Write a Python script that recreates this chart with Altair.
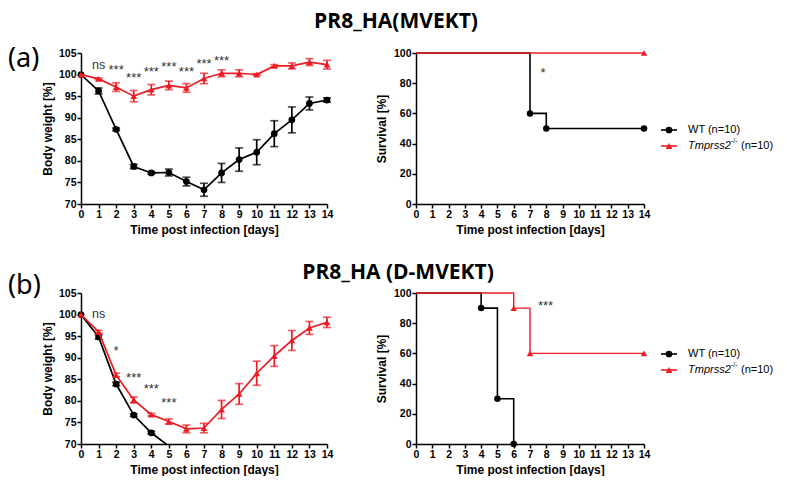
import altair as alt
import pandas as pd

# ---------------- data ----------------
days = list(range(15))

# (a) PR8_HA(MVEKT) – body weight (mean, SEM)
wt_a_mean = [100, 96.2, 87.3, 78.7, 77.2, 77.3, 75.2, 73.3, 77.2, 80.3, 82.0, 86.3, 89.5, 93.3, 94.1]
wt_a_sem = [0, 0.7, 0.3, 0.5, 0.3, 0.8, 1.0, 1.5, 2.2, 2.7, 2.9, 3.0, 3.0, 1.5, 0.5]
ko_a_mean = [100, 99.0, 97.1, 95.0, 96.5, 97.5, 96.9, 99.1, 100.3, 100.3, 100.0, 102.0, 102.0, 102.9, 102.3]
ko_a_sem = [0, 0.2, 1.0, 1.3, 1.2, 1.0, 1.0, 1.2, 0.8, 0.8, 0.2, 0.3, 0.7, 0.8, 1.0]
sig_a_days = [1, 2, 3, 4, 5, 6, 7, 8]
sig_a_y = [102.0, 101.9, 100.0, 101.3, 102.6, 101.4, 103.3, 103.9]
sig_a_txt = ["ns", "***", "***", "***", "***", "***", "***", "***"]

# (b) PR8_HA (D-MVEKT) – body weight
wt_b_days = [0, 1, 2, 3, 4, 5]
wt_b_mean = [100, 94.8, 83.9, 76.7, 72.6, 69.5]
wt_b_sem = [0, 0.5, 0.4, 0.3, 0.3, 0]
ko_b_mean = [100, 96.0, 86.0, 80.2, 76.8, 75.2, 73.5, 73.7, 78.0, 81.6, 86.4, 90.4, 94.0, 96.9, 98.2]
ko_b_sem = [0, 0.3, 0.4, 0.7, 0.3, 0.6, 0.9, 1.1, 2.1, 2.4, 2.8, 2.4, 2.3, 1.5, 1.2]
sig_b_days = [1, 2, 3, 4, 5]
sig_b_y = [100.0, 92.3, 86.0, 83.5, 80.2]
sig_b_txt = ["ns", "*", "***", "***", "***"]

# survival (Kaplan-Meier steps)
surv_a_wt_days = [0, 7, 8, 14]
surv_a_wt = [100, 60, 50, 50]
surv_a_ko_days = [0, 14]
surv_a_ko = [100, 100]
surv_a_sig_days = [7.8]
surv_a_sig_y = [89.2]
surv_a_sig_txt = ["*"]

surv_b_wt_days = [0, 4, 5, 6]
surv_b_wt = [100, 90, 30, 0]
surv_b_ko_days = [0, 6, 7, 14]
surv_b_ko = [100, 90, 60, 60]
surv_b_sig_days = [7.95]
surv_b_sig_y = [93.4]
surv_b_sig_txt = ["***"]

titles = ["PR8_HA(MVEKT)", "PR8_HA (D-MVEKT)"]
panel_tags = ["(a)", "(b)"]
legend_wt = "WT (n=10)"
legend_ko = ["Tmprss2", "-/-", "(n=10)"]

# ---------------- style ----------------
RED = "#ec1c24"
FONT = "Liberation Sans"
TFONT = "Open Sans"

xs = alt.Scale(domain=[0, 14], nice=False, zero=False)
X_AXIS = alt.Axis(values=days, title="Time post infection [days]", labelAngle=0,
                  labelOverlap=False, labelFlush=False, titlePadding=5)
X = alt.X("d:Q", scale=xs, axis=X_AXIS)


def frame(d, m, e=None):
    df = pd.DataFrame({"d": d, "m": m})
    if e is not None:
        df["e"] = e
        df["lo"] = [a - b for a, b in zip(m, e)]
        df["hi"] = [a + b for a, b in zip(m, e)]
    return df


def label(text, x, y, size, font=FONT, weight="normal", align="left", style="normal",
          baseline="middle", dy=0, color="black"):
    return alt.Chart(pd.DataFrame({"t": [text]})).mark_text(
        font=font, fontSize=size, fontWeight=weight, fontStyle=style, align=align,
        baseline=baseline, dy=dy, color=color
    ).encode(x=alt.value(x), y=alt.value(y), text="t:N")


def sig_layers(sd, sy, st, Y):
    df = pd.DataFrame({"d": sd, "y": sy, "t": st})
    ns = alt.Chart(df).transform_filter("datum.t == 'ns'").mark_text(
        font=FONT, fontSize=12.5, color="#333333", baseline="alphabetic", dy=3.3
    ).encode(x=X, y=Y("y"), text="t:N")
    stars = alt.Chart(df).transform_filter("datum.t != 'ns'").mark_text(
        font=FONT, fontSize=13, color="#333333", baseline="alphabetic", dy=7.5
    ).encode(x=X, y=Y("y"), text="t:N")
    return [ns, stars]


def weight_panel(wt, ko, sig, h, extra):
    ys = alt.Scale(domain=[70, 105], nice=False, zero=False)
    yax = alt.Axis(values=[70, 75, 80, 85, 90, 95, 100, 105], title="Body weight [%]", titlePadding=4)

    def Y(f):
        return alt.Y(f"{f}:Q", scale=ys, axis=yax)

    layers = []
    for df, color, shape in [(wt, "black", "circle"), (ko, RED, "triangle-up")]:
        base = alt.Chart(df)
        layers.append(base.mark_line(color=color, strokeWidth=1.7, clip=True).encode(x=X, y=Y("m")))
        layers.append(base.transform_filter("datum.e > 0").mark_errorbar(
            color=color, ticks=True, size=8, thickness=1.7).encode(x=X, y=Y("lo"), y2="hi:Q"))
        layers.append(base.transform_filter("datum.m >= 70").mark_point(
            shape=shape, filled=True, size=45, color=color, opacity=1).encode(x=X, y=Y("m")))
    layers += sig_layers(*sig, Y)
    layers += extra
    return alt.layer(*layers).properties(width=246, height=h)


def survival_panel(wt, ko, sig, h, leg_y):
    ys = alt.Scale(domain=[0, 100], nice=False, zero=False)
    yax = alt.Axis(values=[0, 20, 40, 60, 80, 100], title="Survival [%]", titlePadding=5)

    def Y(f):
        return alt.Y(f"{f}:Q", scale=ys, axis=yax)

    layers = []
    for df, color, shape, sw in [(wt, "black", "circle", 1.6), (ko, RED, "triangle-up", 1.4)]:
        base = alt.Chart(df)
        layers.append(base.mark_line(color=color, strokeWidth=sw, interpolate="step-after").encode(x=X, y=Y("m")))
        layers.append(base.transform_filter("datum.d > 0").mark_point(
            shape=shape, filled=True, size=42, color=color, opacity=1).encode(x=X, y=Y("m")))
    layers += sig_layers(*sig, Y)
    # legend
    y1, y2 = leg_y
    one = pd.DataFrame({"t": [0]})
    leg = [
        alt.Chart(one).mark_rule(color="black", strokeWidth=1.6).encode(
            x=alt.value(245), x2=alt.value(261), y=alt.value(y1)),
        alt.Chart(one).mark_point(shape="circle", filled=True, size=45, color="black", opacity=1).encode(
            x=alt.value(253), y=alt.value(y1)),
        label(legend_wt, 272, y1, 11),
        alt.Chart(one).mark_rule(color=RED, strokeWidth=1.6).encode(
            x=alt.value(245), x2=alt.value(261), y=alt.value(y2)),
        alt.Chart(one).mark_point(shape="triangle-up", filled=True, size=45, color=RED, opacity=1).encode(
            x=alt.value(253), y=alt.value(y2)),
        label(legend_ko[0], 272, y2, 11, style="italic"),
        label(legend_ko[1], 315, y2, 7, dy=-5),
        label(legend_ko[2], 325, y2, 11),
    ]
    layers += leg
    return alt.layer(*layers).properties(width=228, height=h)


H = 151

left_a = weight_panel(
    frame(days, wt_a_mean, wt_a_sem), frame(days, ko_a_mean, ko_a_sem),
    (sig_a_days, sig_a_y, sig_a_txt), H,
    [label(titles[0], 315, -31, 21, font=TFONT, weight="bold", align="center"),
     label(panel_tags[0], -73, 6, 27, font="Noto Sans")])
right_a = survival_panel(
    frame(surv_a_wt_days, surv_a_wt), frame(surv_a_ko_days, surv_a_ko),
    (surv_a_sig_days, surv_a_sig_y, surv_a_sig_txt), H, (77, 93))

left_b = weight_panel(
    frame(wt_b_days, wt_b_mean, wt_b_sem), frame(days, ko_b_mean, ko_b_sem),
    (sig_b_days, sig_b_y, sig_b_txt), H,
    [label(titles[1], 317, -20, 21, font=TFONT, weight="bold", align="center"),
     label(panel_tags[1], -73, -7, 27, font="Noto Sans")])
right_b = survival_panel(
    frame(surv_b_wt_days, surv_b_wt), frame(surv_b_ko_days, surv_b_ko),
    (surv_b_sig_days, surv_b_sig_y, surv_b_sig_txt), H, (61, 77))

chart = alt.concat(left_a, right_a, left_b, right_b, columns=2, spacing=89,
                   bounds="flush",
                   padding={"top": 3, "left": 0, "right": 0, "bottom": 0}).configure_view(
    stroke=None
).configure_axis(
    domainColor="black", domainWidth=1.5, tickColor="black", tickWidth=1.5, tickSize=4,
    labelFont=FONT, labelFontSize=10.5, labelFontWeight="bold", labelColor="black", labelPadding=1,
    titleFont=FONT, titleFontSize=12, titleFontWeight="bold", titleColor="black", grid=False
)

chart.save("out.html", embed_options={"renderer": "svg", "actions": False})
